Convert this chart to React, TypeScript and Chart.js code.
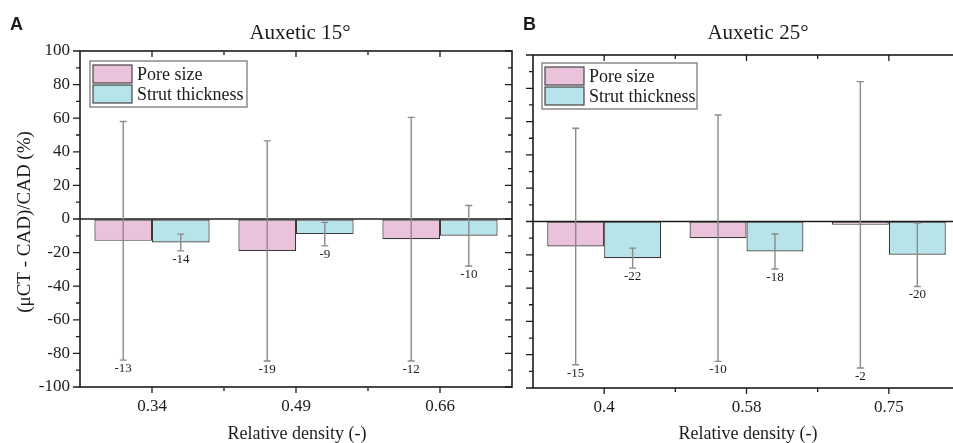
import React, { useEffect, useRef } from 'react';
import { Chart, registerables } from 'chart.js';

Chart.register(...registerables);

const SERIF = "'Liberation Serif', 'Times New Roman', serif";
const SANS = "'Liberation Sans', Arial, sans-serif";

const seriesNames = ['Pore size', 'Strut thickness'];

const categoriesA = ['0.34', '0.49', '0.66'];
const poreA = [-13, -19, -12];
const poreErrA = [71, 65.5, 72.5];
const strutA = [-14, -9, -10];
const strutErrA = [5, 7, 18];

const categoriesB = ['0.4', '0.58', '0.75'];
const poreB = [-15, -10, -2];
const poreErrB = [71, 74, 86];
const strutB = [-22, -18, -20];
const strutErrB = [6, 10.5, 19];

const yMin = -100;
const yMax = 100;
const yStep = 20;
const yMinorStep = 10;

const yAxisTitle = '(μCT - CAD)/CAD (%)';
const xAxisTitle = 'Relative density (-)';

const PINK = '#EBC2DC';
const CYAN = '#B7E3EB';
const BAR_BORDER = '#3a3a3a';
const ERR = '#8a8a8a';
const INK = '#1c1c1c';

type PanelCfg = {
  letter: string;
  title: string;
  categories: string[];
  pore: number[];
  poreErr: number[];
  strut: number[];
  strutErr: number[];
  width: number;
  padding: { top: number; right: number; bottom: number; left: number };
  yAxisWidth: number;
  showY: boolean;
  xAxisHeight: number;
  letterX: number;
  titleX: number;
  xTitleX: number;
  legendX: number;
  legendY: number;
};

const panels: PanelCfg[] = [
  {
    letter: 'A',
    title: 'Auxetic 15°',
    categories: categoriesA,
    pore: poreA,
    poreErr: poreErrA,
    strut: strutA,
    strutErr: strutErrA,
    width: 520,
    padding: { top: 51, right: 8, bottom: 0, left: 0 },
    yAxisWidth: 80,
    showY: true,
    xAxisHeight: 56,
    letterX: 10,
    titleX: 300,
    xTitleX: 297,
    legendX: 90,
    legendY: 61,
  },
  {
    letter: 'B',
    title: 'Auxetic 25°',
    categories: categoriesB,
    pore: poreB,
    poreErr: poreErrB,
    strut: strutB,
    strutErr: strutErrB,
    width: 460,
    padding: { top: 55, right: 20, bottom: 0, left: 13 },
    yAxisWidth: 0,
    showY: false,
    xAxisHeight: 55,
    letterX: 3,
    titleX: 238,
    xTitleX: 228,
    legendX: 22,
    legendY: 63,
  },
];

function makePlugin(cfg: PanelCfg) {
  return {
    id: 'decor' + cfg.letter,
    afterDatasetsDraw(chart: any) {
      const ctx: CanvasRenderingContext2D = chart.ctx;
      const { left, right, top, bottom } = chart.chartArea;
      const xs = chart.scales.x;
      const ys = chart.scales.y;
      ctx.save();

      // zero line
      const y0 = ys.getPixelForValue(0);
      ctx.strokeStyle = INK;
      ctx.lineWidth = 1.5;
      ctx.beginPath();
      ctx.moveTo(left, y0);
      ctx.lineTo(right, y0);
      ctx.stroke();

      // error bars + value labels
      const vals = [cfg.pore, cfg.strut];
      const errs = [cfg.poreErr, cfg.strutErr];
      for (let d = 0; d < 2; d++) {
        const meta = chart.getDatasetMeta(d);
        meta.data.forEach((bar: any, i: number) => {
          const cx = bar.x;
          const v = vals[d][i];
          const e = errs[d][i];
          const yt = ys.getPixelForValue(v + e);
          const yb = ys.getPixelForValue(v - e);
          ctx.strokeStyle = ERR;
          ctx.lineWidth = 1.4;
          ctx.beginPath();
          ctx.moveTo(cx, yt);
          ctx.lineTo(cx, yb);
          ctx.moveTo(cx - 3.5, yt);
          ctx.lineTo(cx + 3.5, yt);
          ctx.moveTo(cx - 3.5, yb);
          ctx.lineTo(cx + 3.5, yb);
          ctx.stroke();
          ctx.fillStyle = INK;
          ctx.font = `13px ${SERIF}`;
          ctx.textAlign = 'center';
          ctx.textBaseline = 'top';
          ctx.fillText(String(v), cx, yb + 2);
        });
      }

      // frame
      ctx.strokeStyle = INK;
      ctx.lineWidth = 1.6;
      ctx.strokeRect(left, top, right - left, bottom - top);

      // y ticks (outward on left, inward on right)
      ctx.lineWidth = 1.3;
      ctx.beginPath();
      for (let v = yMin; v <= yMax; v += yMinorStep) {
        const major = v % yStep === 0;
        const py = ys.getPixelForValue(v);
        const len = major ? 7 : 4;
        ctx.moveTo(left - len, py);
        ctx.lineTo(left, py);
        ctx.moveTo(right, py);
        ctx.lineTo(right - len, py);
      }
      // x ticks
      const n = cfg.categories.length;
      for (let i = 0; i < n; i++) {
        const px = xs.getPixelForValue(i);
        ctx.moveTo(px, bottom);
        ctx.lineTo(px, bottom + 6);
        ctx.moveTo(px, top);
        ctx.lineTo(px, top + 6);
        if (i < n - 1) {
          const mx = (px + xs.getPixelForValue(i + 1)) / 2;
          ctx.moveTo(mx, bottom);
          ctx.lineTo(mx, bottom + 4);
          ctx.moveTo(mx, top);
          ctx.lineTo(mx, top + 4);
        }
      }
      ctx.stroke();

      // legend
      const lx = cfg.legendX;
      const ly = cfg.legendY;
      const lw = cfg.letter === 'A' ? 157 : 155;
      const lh = 46;
      ctx.fillStyle = '#ffffff';
      ctx.fillRect(lx, ly, lw, lh);
      ctx.strokeStyle = '#8a8a8a';
      ctx.lineWidth = 1.5;
      ctx.strokeRect(lx, ly, lw, lh);
      const colors = [PINK, CYAN];
      for (let k = 0; k < 2; k++) {
        const sx = lx + 3;
        const sy = ly + 4 + k * 20;
        ctx.fillStyle = colors[k];
        ctx.fillRect(sx, sy, 39, 18);
        ctx.strokeStyle = '#444';
        ctx.lineWidth = 1.2;
        ctx.strokeRect(sx, sy, 39, 18);
        ctx.fillStyle = INK;
        ctx.font = `18px ${SERIF}`;
        ctx.textAlign = 'left';
        ctx.textBaseline = 'middle';
        ctx.fillText(seriesNames[k], sx + 44, sy + 10);
      }

      // titles
      ctx.fillStyle = INK;
      ctx.font = `21px ${SERIF}`;
      ctx.textAlign = 'center';
      ctx.textBaseline = 'middle';
      ctx.fillText(cfg.title, cfg.titleX, 33);

      ctx.font = `bold 18px ${SANS}`;
      ctx.textAlign = 'left';
      ctx.fillText(cfg.letter, cfg.letterX, 25);

      ctx.font = `18px ${SERIF}`;
      ctx.textAlign = 'center';
      ctx.textBaseline = 'alphabetic';
      ctx.fillText(xAxisTitle, cfg.xTitleX, 439);

      if (cfg.showY) {
        ctx.save();
        ctx.translate(25, 222);
        ctx.rotate(-Math.PI / 2);
        ctx.font = `19px ${SERIF}`;
        ctx.textAlign = 'center';
        ctx.textBaseline = 'middle';
        ctx.fillText(yAxisTitle, 0, 0);
        ctx.restore();
      }

      ctx.restore();
    },
  };
}

function Panel({ cfg, x }: { cfg: PanelCfg; x: number }) {
  const ref = useRef<HTMLCanvasElement | null>(null);
  useEffect(() => {
    const canvas = ref.current;
    if (!canvas) return;
    const chart = new Chart(canvas, {
      type: 'bar',
      data: {
        labels: cfg.categories,
        datasets: [
          {
            label: seriesNames[0],
            data: cfg.pore,
            backgroundColor: PINK,
            borderColor: BAR_BORDER,
            borderWidth: 1.2,
            borderSkipped: false,
            categoryPercentage: 0.8,
            barPercentage: 1.0,
          },
          {
            label: seriesNames[1],
            data: cfg.strut,
            backgroundColor: CYAN,
            borderColor: BAR_BORDER,
            borderWidth: 1.2,
            borderSkipped: false,
            categoryPercentage: 0.8,
            barPercentage: 1.0,
          },
        ],
      },
      options: {
        responsive: false,
        animation: false,
        devicePixelRatio: 1,
        layout: { padding: cfg.padding },
        plugins: {
          legend: { display: false },
          tooltip: { enabled: false },
          title: { display: false },
        },
        scales: {
          x: {
            type: 'category',
            offset: true,
            grid: {
              display: true,
              drawOnChartArea: false,
              drawTicks: true,
              tickLength: 8,
              color: 'transparent',
            },
            border: { display: false },
            ticks: {
              font: { family: SERIF, size: 17 },
              color: INK,
              padding: 1,
              maxRotation: 0,
            },
            afterFit: (s: any) => {
              s.height = cfg.xAxisHeight;
            },
          },
          y: {
            type: 'linear',
            display: cfg.showY,
            min: yMin,
            max: yMax,
            grid: {
              display: true,
              drawOnChartArea: false,
              drawTicks: true,
              tickLength: 8,
              color: 'transparent',
            },
            border: { display: false },
            ticks: {
              stepSize: yStep,
              font: { family: SERIF, size: 17 },
              color: INK,
              padding: 2,
            },
            afterFit: (s: any) => {
              s.width = cfg.yAxisWidth;
            },
          },
        },
      },
      plugins: [makePlugin(cfg)],
    } as any);
    return () => chart.destroy();
  }, [cfg]);
  return (
    <canvas
      ref={ref}
      width={cfg.width}
      height={443}
      style={{ position: 'absolute', left: x, top: 0, width: cfg.width, height: 443 }}
    />
  );
}

export default function App() {
  return (
    <div
      style={{
        position: 'fixed',
        left: 0,
        top: 0,
        width: 953,
        height: 443,
        overflow: 'hidden',
        background: '#ffffff',
      }}
    >
      <Panel cfg={panels[0]} x={0} />
      <Panel cfg={panels[1]} x={520} />
    </div>
  );
}
